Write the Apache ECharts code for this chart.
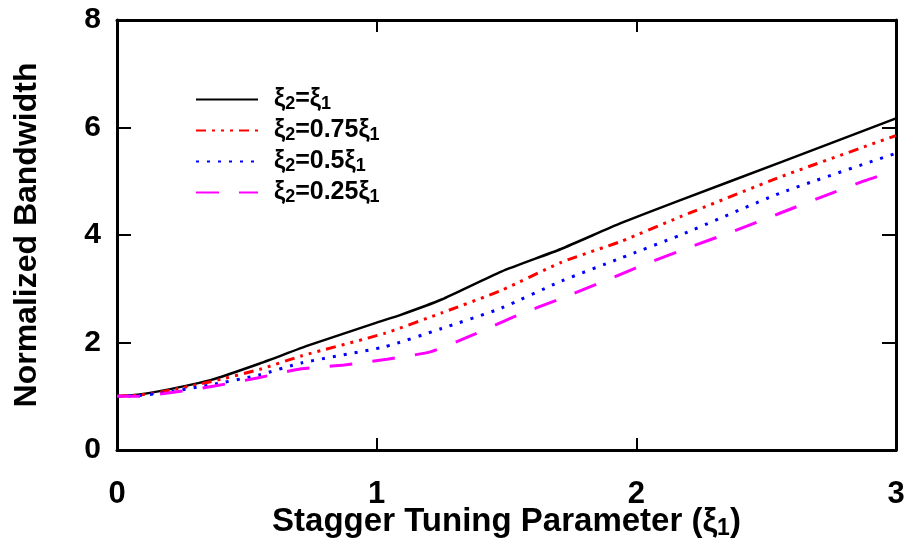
<!DOCTYPE html>
<html>
<head>
<meta charset="utf-8">
<script src="https://cdn.jsdelivr.net/npm/echarts@6/dist/echarts.min.js"></script>
<style>html,body{margin:0;padding:0;background:#fff}#c{width:909px;height:544px}</style>
</head>
<body>
<div id="c"></div>
<script>
// ---- data ----
var xTicks = [0, 1, 2, 3];
var yTicks = [0, 2, 4, 6, 8];

var seriesNames = ['ξ2=ξ1', 'ξ2=0.75ξ1', 'ξ2=0.5ξ1', 'ξ2=0.25ξ1'];

var xBlack = [0, 0.08, 0.17, 0.36, 0.55, 0.74, 1.0, 1.09, 1.25, 1.48, 1.71, 1.94, 2.17, 2.56, 3.0];
var yBlack = [1.0, 1.03, 1.10, 1.30, 1.61, 1.95, 2.37, 2.51, 2.80, 3.32, 3.74, 4.22, 4.65, 5.36, 6.17];

var xRed = [0, 0.08, 0.17, 0.36, 0.55, 0.71, 1.03, 1.25, 1.48, 1.71, 1.94, 2.17, 2.56, 3.0];
var yRed = [1.0, 1.02, 1.08, 1.27, 1.50, 1.75, 2.17, 2.55, 2.97, 3.49, 3.88, 4.34, 5.09, 5.85];

var xBlue = [0, 0.08, 0.17, 0.36, 0.55, 0.71, 1.03, 1.25, 1.48, 1.71, 1.94, 2.17, 2.56, 3.0];
var yBlue = [1.0, 1.01, 1.06, 1.21, 1.40, 1.62, 1.92, 2.26, 2.64, 3.14, 3.57, 4.00, 4.79, 5.52];

var xMag = [0, 0.09, 0.21, 0.375, 0.54, 0.71, 0.875, 1.04, 1.21, 1.375, 1.54, 1.71, 1.88, 2.04, 2.21, 2.38, 2.55, 2.71, 2.88, 3.0];
var yMag = [1.0, 1.0, 1.07, 1.19, 1.34, 1.51, 1.58, 1.69, 1.83, 2.15, 2.50, 2.82, 3.15, 3.47, 3.78, 4.08, 4.40, 4.70, 5.01, 5.20];

function zip(xs, ys) { return xs.map(function (x, i) { return [x, ys[i]]; }); }

var chart = echarts.init(document.getElementById('c'), null, { renderer: 'canvas' });

var axisFont = 'Liberation Sans, DejaVu Sans, sans-serif';

var legendFmt = function (name) {
  var m = name.match(/^ξ2=(.*)ξ1$/);
  return '{p|}{a|ξ}{s|2}{a|=' + m[1] + 'ξ}{s|1}';
};
var legendRich = {
  p: { width: 11, height: 10 },
  a: { fontFamily: axisFont, fontWeight: 'bold', fontSize: 25, color: '#000', lineHeight: 23 },
  s: { fontFamily: axisFont, fontWeight: 'bold', fontSize: 18, color: '#000', lineHeight: 14, padding: [9, 0, 0, 0] }
};
var legendText = { fontFamily: axisFont, fontWeight: 'bold', fontSize: 25, color: '#000', lineHeight: 23, rich: legendRich };

var option = {
  backgroundColor: '#fff',
  animation: false,
  textStyle: { fontFamily: axisFont },
  grid: { left: 117, right: 13, top: 20, bottom: 94, containLabel: false, outerBoundsMode: 'none' },
  legend: {
    show: true,
    left: 190, top: 81, orient: 'vertical',
    itemWidth: 62, itemHeight: 12, itemGap: 4,
    data: seriesNames.map(function (n) { return { name: n, textStyle: legendText }; }),
    formatter: legendFmt,
    itemStyle: { opacity: 0 },
    textStyle: legendText
  },
  xAxis: [{
    type: 'value', min: 0, max: 3, interval: 1, position: 'bottom',
    name: '{a|Stagger Tuning Parameter (ξ}{s|1}{a|)}',
    nameLocation: 'middle', nameGap: 54, nameMoveOverlap: false,
    nameTextStyle: {
      fontFamily: axisFont, fontWeight: 'bold', fontSize: 33, color: '#000',
      rich: {
        a: { fontFamily: axisFont, fontWeight: 'bold', fontSize: 33, color: '#000' },
        s: { fontFamily: axisFont, fontWeight: 'bold', fontSize: 23, color: '#000', padding: [13, 0, 0, 0] }
      }
    },
    axisLine: { show: true, onZero: false, lineStyle: { color: '#000', width: 3 } },
    axisTick: { show: true, inside: true, length: 12, lineStyle: { color: '#000', width: 2 } },
    axisLabel: { margin: 29, fontFamily: axisFont, fontWeight: 'bold', fontSize: 31, color: '#000',
      formatter: function (v) { return xTicks.indexOf(v) >= 0 ? String(v) : ''; } },
    splitLine: { show: false }
  }, {
    type: 'value', min: 0, max: 3, interval: 1, position: 'top',
    axisLine: { show: true, onZero: false, lineStyle: { color: '#000', width: 3 } },
    axisTick: { show: true, inside: true, length: 12, lineStyle: { color: '#000', width: 2 } },
    axisLabel: { show: false }, splitLine: { show: false }
  }],
  yAxis: [{
    type: 'value', min: 0, max: 8, interval: 2, position: 'left',
    name: 'Normalized Bandwidth', nameLocation: 'middle', nameGap: 74, nameMoveOverlap: false,
    nameTextStyle: { fontFamily: axisFont, fontWeight: 'bold', fontSize: 32, color: '#000' },
    axisLine: { show: true, onZero: false, lineStyle: { color: '#000', width: 3 } },
    axisTick: { show: true, inside: true, length: 14, lineStyle: { color: '#000', width: 2 } },
    axisLabel: { margin: 16, fontFamily: axisFont, fontWeight: 'bold', fontSize: 30, color: '#000',
      formatter: function (v) { return yTicks.indexOf(v) >= 0 ? String(v) : ''; } },
    splitLine: { show: false }
  }, {
    type: 'value', min: 0, max: 8, interval: 2, position: 'right',
    axisLine: { show: true, onZero: false, lineStyle: { color: '#000', width: 3 } },
    axisTick: { show: true, inside: true, length: 14, lineStyle: { color: '#000', width: 2 } },
    axisLabel: { show: false }, splitLine: { show: false }
  }],
  series: [
    { name: seriesNames[0], type: 'line', data: zip(xBlack, yBlack), symbol: 'none', smooth: 0.2,
      lineStyle: { color: '#000', width: 2.5, type: 'solid' }, itemStyle: { color: '#000' } },
    { name: seriesNames[1], type: 'line', data: zip(xRed, yRed), symbol: 'none', smooth: 0.2,
      lineStyle: { color: '#ff0000', width: 3, type: [10, 6, 3, 6, 3, 6, 3, 6] }, itemStyle: { color: '#ff0000' } },
    { name: seriesNames[2], type: 'line', data: zip(xBlue, yBlue), symbol: 'none', smooth: 0.2,
      lineStyle: { color: '#0000ff', width: 3, type: [3, 8] }, itemStyle: { color: '#0000ff' } },
    { name: seriesNames[3], type: 'line', data: zip(xMag, yMag), symbol: 'none', smooth: 0.2,
      lineStyle: { color: '#ff00ff', width: 3, type: [23, 20] }, itemStyle: { color: '#ff00ff' } }
  ]
};
chart.setOption(option);
</script>
</body>
</html>
